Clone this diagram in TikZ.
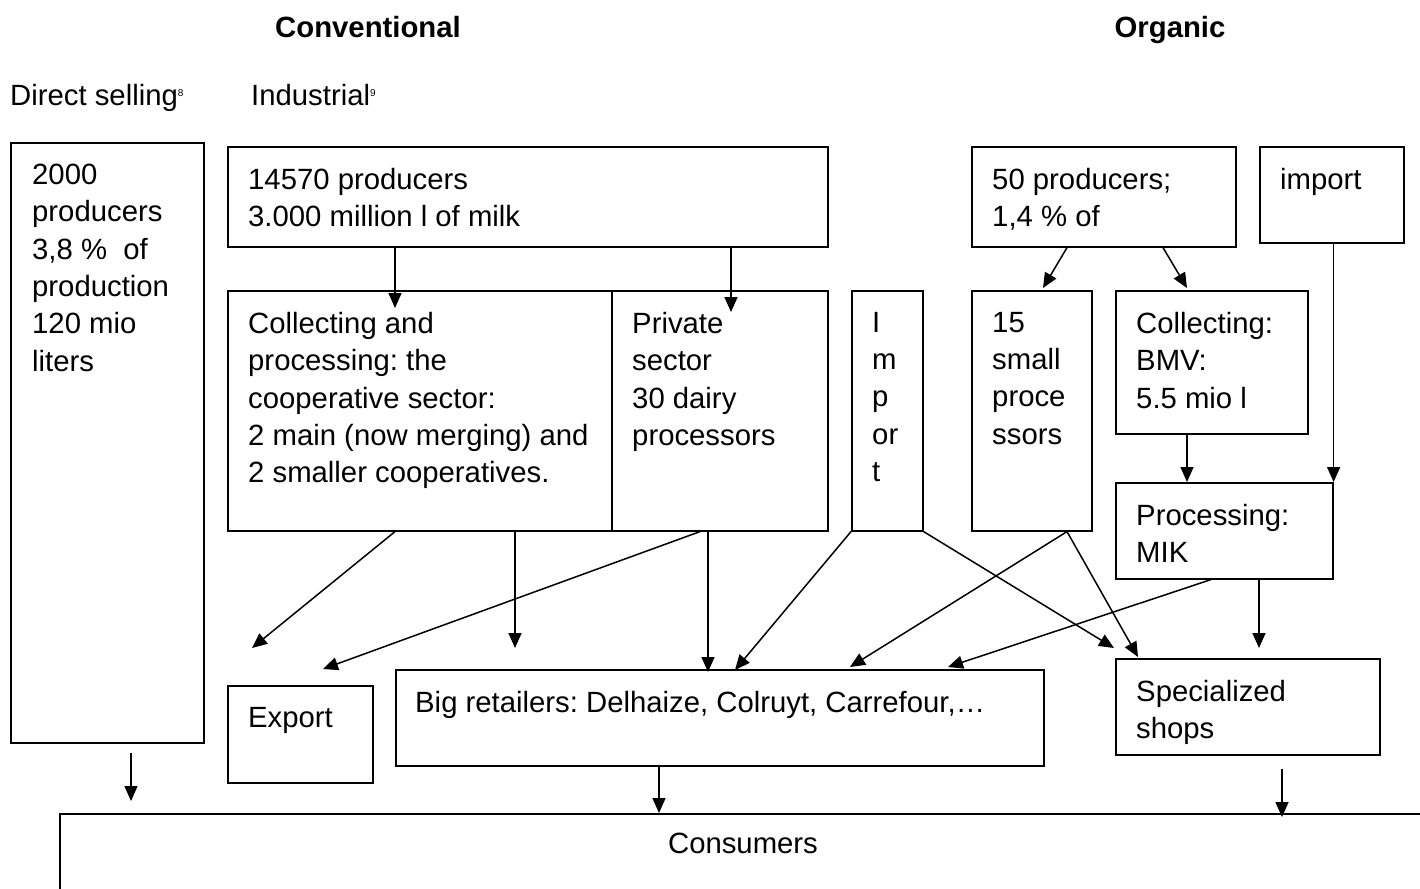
\documentclass[tikz,border=0pt]{standalone}
\usepackage{fontspec}
\setmainfont{Liberation Sans}
\usetikzlibrary{arrows.meta}
\frenchspacing

\begin{document}
\begin{tikzpicture}[x=1pt,y=-1pt,>={Triangle[length=15pt,width=13pt]},
  font=\fontsize{29.3}{37.3}\selectfont,
  box/.style={draw,line width=1.6pt,inner sep=0pt,anchor=north west},
  lbl/.style={inner sep=0pt,anchor=north west,align=left},
  flow/.style={->,line width=1.5pt}]
\clip (0,0) rectangle (1420,888);
\node[anchor=base,font=\fontsize{29.3}{37.3}\selectfont\bfseries] (conv) at (368,38) {Conventional};
\node[anchor=base,font=\fontsize{29.3}{37.3}\selectfont\bfseries] (org) at (1170,38) {Organic};
\node[anchor=base west,inner sep=0pt] (direcths) at (10,106) {Direct selling\raisebox{0.6ex}{\fontsize{10}{10}\selectfont 8}};
\node[anchor=base west,inner sep=0pt] (indus) at (251,106) {Industrial\raisebox{0.6ex}{\fontsize{10}{10}\selectfont 9}};
% boxes
\node[box,minimum width=193pt,minimum height=600pt] (direct) at (10,142) {};
\node[box,minimum width=600pt,minimum height=100pt] (prod) at (227,146) {};
\node[box,minimum width=384pt,minimum height=240pt] (coop) at (227,290) {};
\node[box,minimum width=216pt,minimum height=240pt] (priv) at (611,290) {};
\node[box,minimum width=71pt,minimum height=240pt] (imp) at (851,290) {};
\node[box,minimum width=120pt,minimum height=240pt] (small) at (971,290) {};
\node[box,minimum width=264pt,minimum height=100pt] (orgprod) at (971,146) {};
\node[box,minimum width=144pt,minimum height=96pt] (orgimp) at (1259,146) {};
\node[box,minimum width=192pt,minimum height=143pt] (bmv) at (1115,290) {};
\node[box,minimum width=217pt,minimum height=96pt] (mik) at (1115,482) {};
\node[box,minimum width=145pt,minimum height=97pt] (export) at (227,685) {};
\node[box,minimum width=648pt,minimum height=96pt] (big) at (395,669) {};
\node[box,minimum width=264pt,minimum height=96pt] (shops) at (1115,658) {};
\node[box,minimum width=1420pt,minimum height=200pt] (cons) at (59,813) {};
% texts
\node[lbl] (directtxt) at (32,164) {2000\\producers\\3,8~\%~ of\\production\\120 mio\\liters};
\node[lbl] (prodtxt) at (248,168) {14570 producers\\3.000 million l of milk};
\node[lbl] (cooptxt) at (248,312) {Collecting and\\processing: the\\cooperative sector:\\2 main (now merging) and\\2 smaller cooperatives.};
\node[lbl] (privtxt) at (632,312) {Private\\sector\\30 dairy\\processors};
\node[lbl] (imptxt) at (872,312) {I\\m\\p\\or\\t};
\node[lbl] (smalltxt) at (992,312) {15\\small\\proce\\ssors};
\node[lbl] (orgprodtxt) at (992,168) {50 producers;\\1,4 \% of};
\node[lbl] (orgimptxt) at (1280,168) {import};
\node[lbl] (bmvtxt) at (1136,312) {Collecting:\\BMV:\\5.5 mio l};
\node[lbl] (miktxt) at (1136,504) {Processing:\\MIK};
\node[lbl] (exporttxt) at (248,707) {Export};
\node[lbl] (bigtxt) at (415,691) {Big retailers: Delhaize, Colruyt, Carrefour,…};
\node[lbl] (shopstxt) at (1136,680) {Specialized\\shops};
\node (constxt) at (743,843) {Consumers};
% free arrow ends
\coordinate (tcoop) at (395,308);
\coordinate (tpriv) at (731,312);
\coordinate (texpa) at (252,648);
\coordinate (texpb) at (323,669);
\coordinate (tbiga) at (515,648);
\coordinate (tbigb) at (708,672);
\coordinate (tbigc) at (735,670);
\coordinate (tbigd) at (850,667);
\coordinate (tbige) at (948,667);
\coordinate (tshopa) at (1114,648);
\coordinate (tshopb) at (1138,657);
\coordinate (tshopc) at (1259,648);
\coordinate (tsmall) at (1043,288);
\coordinate (tbmv) at (1187,288);
\coordinate (tcona) at (131,801);
\coordinate (tconb) at (1282,817);
% connectors
\draw[flow] (395,0 |- prod.south) -- (tcoop);
\draw[flow] (731,0 |- prod.south) -- (tpriv);
\draw[flow] (395,0 |- coop.south) -- (texpa);
\draw[flow] (515,0 |- coop.south) -- (tbiga);
\draw[flow] (700,0 |- priv.south) -- (texpb);
\draw[flow] (708,0 |- priv.south) -- (tbigb);
\draw[flow] (imp.south west) -- (tbigc);
\draw[flow] (imp.south east) -- (tshopa);
\draw[flow] (1067,0 |- small.south) -- (tbigd);
\draw[flow] (1067,0 |- small.south) -- (tshopb);
\draw[flow] (1211,0 |- mik.south) -- (tbige);
\draw[flow] (1259,0 |- mik.south) -- (tshopc);
\draw[flow] (1187,0 |- bmv.south) -- (1187,0 |- mik.north);
\draw[flow] (orgimp.south -| mik.east) -- (mik.north east);
\draw[flow] (1067,0 |- orgprod.south) -- (tsmall);
\draw[flow] (1163,0 |- orgprod.south) -- (tbmv);
\draw[flow] (131,753) -- (tcona);
\draw[flow] (659,0 |- big.south) -- (659,0 |- cons.north);
\draw[flow] (1282,769) -- (tconb);
\end{tikzpicture}
\end{document}
